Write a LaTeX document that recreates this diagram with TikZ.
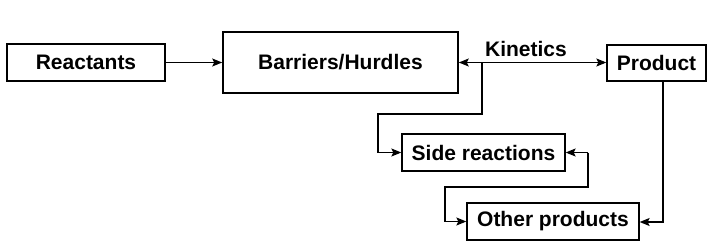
\documentclass[tikz,border=0pt]{standalone}
\usepackage{fontspec}
\setmainfont{Liberation Sans}
\usetikzlibrary{arrows.meta}
\begin{document}
\begin{tikzpicture}[x=1pt,y=-1pt,
  box/.style={draw,line width=1.3pt,inner sep=0pt,font=\fontsize{21}{25}\selectfont\bfseries},
  conn/.style={line width=1.3pt},
  tip/.style={-{Stealth[length=10pt,width=8pt,inset=2pt]}}]
\useasboundingbox (0,0) rectangle (716,252);
\node[box,line width=2.2pt,minimum width=158pt,minimum height=37pt] (react) at (86,62.5) {Reactants};
\node[box,line width=1.6pt,minimum width=235pt,minimum height=61pt] (barr) at (340.5,62.5) {Barriers/Hurdles};
\node[box,minimum width=99pt,minimum height=36pt] (prod) at (656.5,63) {Product};
\node[box,minimum width=163pt,minimum height=37pt] (side) at (483.5,152.5) {Side reactions};
\node[box,minimum width=172pt,minimum height=37pt] (other) at (553,221.5) {Other products};
\node[font=\fontsize{21}{25}\selectfont\bfseries,inner sep=0pt] (kin) at (526,49) {Kinetics};
\coordinate (k1) at (482,62.5);
\coordinate (k2) at (482,114);
\coordinate (k3) at (378,114);
\coordinate (p1) at (663,81);
\coordinate (p2) at (663,222);
\coordinate (s1) at (588,152.5);
\coordinate (s2) at (588,187);
\coordinate (s3) at (445,187);
\coordinate (s4) at (445,221.5);
\draw[conn,tip] (react.east) -- (barr.west);
\draw[conn,tip] (k1) -- (barr.east);
\draw[conn,tip] (k1) -- (k1 -| prod.west);
\draw[conn,tip] (k1) -- (k2) -- (k3) -- (k3 |- side.west) -- (side.west);
\draw[conn,tip] (p1) -- (p2) -- (p2 -| other.east);
\draw[conn,tip] (s1 |- side.east) -- (side.east);
\draw[conn,tip] (s1) -- (s2) -- (s3) -- (s4) -- (other.west);
\end{tikzpicture}
\end{document}
